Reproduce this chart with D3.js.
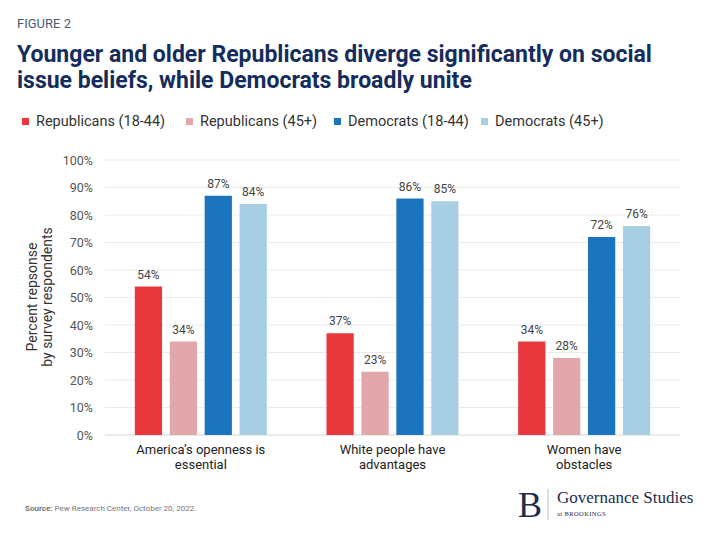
<!DOCTYPE html>
<html>
<head>
<meta charset="utf-8">
<script src="https://cdn.jsdelivr.net/npm/d3@7"></script>
<style>
  body { margin: 0; background: #fff; }
  svg { display: block; font-family: Roboto, "Noto Sans", sans-serif; }
</style>
</head>
<body>
<div id="chart"></div>
<script>
var categories = [
  ["America\u2019s openness is", "essential"],
  ["White people have", "advantages"],
  ["Women have", "obstacles"]
];
var seriesNames = ["Republicans (18-44)", "Republicans (45+)", "Democrats (18-44)", "Democrats (45+)"];
var seriesColors = ["#e8383d", "#e2a7aa", "#1c75bc", "#a8cee4"];
var rep1844 = [54, 37, 34];
var rep45 = [34, 23, 28];
var dem1844 = [87, 86, 72];
var dem45 = [84, 85, 76];
var yTicks = [0, 10, 20, 30, 40, 50, 60, 70, 80, 90, 100];

var values = [rep1844, rep45, dem1844, dem45];

var width = 720, height = 539;
var svg = d3.select("#chart").append("svg")
    .attr("width", width).attr("height", height);

// heading
svg.append("text").attr("x", 17).attr("y", 28)
    .attr("font-size", 13).attr("fill", "#4b5d75")
    .text("FIGURE 2");

var title = svg.append("text").attr("font-weight", "bold").attr("fill", "#142d5c")
    .attr("font-size", 23);
title.append("tspan").attr("x", 17).attr("y", 62)
    .text("Younger and older Republicans diverge significantly on social");
title.append("tspan").attr("x", 17).attr("y", 88)
    .text("issue beliefs, while Democrats broadly unite");

// legend
var legendX = [22, 186, 334, 481];
var legend = svg.selectAll("g.legend").data(seriesNames).enter().append("g")
    .attr("class", "legend")
    .attr("transform", function(d, i) { return "translate(" + legendX[i] + ",126)"; });
legend.append("rect").attr("x", 0).attr("y", -8).attr("width", 7).attr("height", 7)
    .attr("fill", function(d, i) { return seriesColors[i]; });
legend.append("text").attr("x", 14).attr("y", 0)
    .attr("font-size", 14.5).attr("fill", "#333")
    .text(function(d) { return d; });

// scales
var x0 = d3.scaleBand().domain(d3.range(categories.length)).range([105, 680]);
var x1 = d3.scaleBand().domain(d3.range(seriesNames.length))
    .range([-66, 66]).paddingInner(0.22);
var y = d3.scaleLinear().domain([0, 100]).range([435, 160]);

// grid
svg.append("g").selectAll("line").data(yTicks).enter().append("line")
    .attr("x1", 105).attr("x2", 680)
    .attr("y1", function(d) { return y(d); }).attr("y2", function(d) { return y(d); })
    .attr("stroke", function(d) { return d === 0 ? "#d6d6d6" : "#ebebeb"; })
    .attr("stroke-width", 1);

var yAxis = svg.append("g").attr("transform", "translate(93,0)")
    .call(d3.axisLeft(y).tickValues(yTicks).tickSize(0).tickPadding(0)
      .tickFormat(function(d) { return d + "%"; }));
yAxis.select(".domain").remove();
yAxis.selectAll("text").attr("font-size", 12.5).attr("fill", "#555")
    .attr("font-family", "Roboto, sans-serif");

// y title
var yt = svg.append("text").attr("transform", "translate(37,297) rotate(-90)")
    .attr("text-anchor", "middle").attr("font-size", 14).attr("fill", "#333");
yt.append("tspan").attr("x", 0).attr("y", 0).text("Percent repsonse");
yt.append("tspan").attr("x", 0).attr("y", 15).text("by survey respondents");

// bars
var groups = svg.selectAll("g.group").data(categories).enter().append("g")
    .attr("class", "group")
    .attr("transform", function(d, i) { return "translate(" + (x0(i) + x0.bandwidth() / 2) + ",0)"; });

groups.each(function(cat, ci) {
  var g = d3.select(this);
  var data = values.map(function(s, si) { return { s: si, v: s[ci] }; });
  g.selectAll("rect").data(data).enter().append("rect")
      .attr("x", function(d) { return x1(d.s); })
      .attr("width", x1.bandwidth())
      .attr("y", function(d) { return y(d.v); })
      .attr("height", function(d) { return y(0) - y(d.v); })
      .attr("fill", function(d) { return seriesColors[d.s]; });
  g.selectAll("text.val").data(data).enter().append("text")
      .attr("class", "val")
      .attr("x", function(d) { return x1(d.s) + x1.bandwidth() / 2; })
      .attr("y", function(d) { return y(d.v) - 8; })
      .attr("text-anchor", "middle").attr("font-size", 12).attr("fill", "#444")
      .text(function(d) { return d.v + "%"; });
  var lab = g.append("text").attr("text-anchor", "middle")
      .attr("font-size", 13).attr("fill", "#222");
  cat.forEach(function(line, li) {
    lab.append("tspan").attr("x", 0).attr("y", 454 + li * 15).text(line);
  });
});

// source
var src = svg.append("text").attr("x", 25).attr("y", 511)
    .attr("font-size", 8).attr("fill", "#777");
src.append("tspan").attr("font-weight", "bold").text("Source: ");
src.append("tspan").text("Pew Research Center, October 20, 2022.");

// logo
svg.append("text").attr("x", 518).attr("y", 517)
    .attr("font-family", "'Liberation Serif', 'DejaVu Serif', serif")
    .attr("font-size", 36).attr("fill", "#1b2d4f").text("B");
svg.append("line").attr("x1", 548).attr("x2", 548).attr("y1", 489).attr("y2", 520)
    .attr("stroke", "#b8bec8").attr("stroke-width", 1);
svg.append("text").attr("x", 557).attr("y", 503)
    .attr("font-family", "'Liberation Serif', 'DejaVu Serif', serif")
    .attr("font-size", 17).attr("fill", "#1b2d4f").text("Governance Studies");
svg.append("text").attr("x", 557).attr("y", 516)
    .attr("font-family", "'Liberation Serif', 'DejaVu Serif', serif")
    .attr("font-size", 6.5).attr("fill", "#1b2d4f").attr("letter-spacing", 0.4)
    .text("at BROOKINGS");
</script>
</body>
</html>
